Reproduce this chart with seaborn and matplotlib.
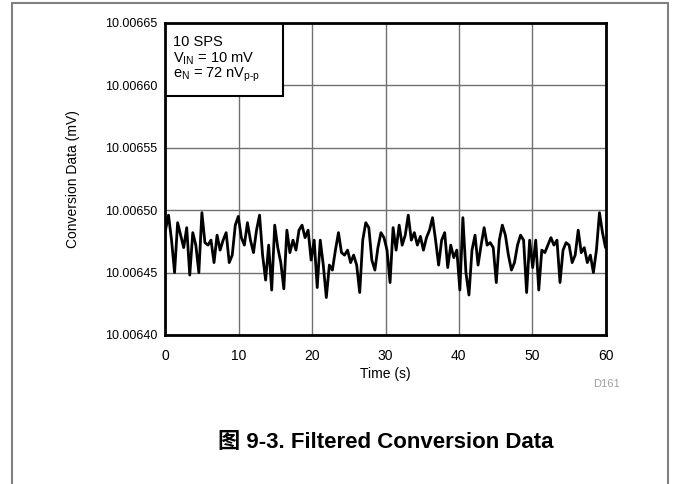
import numpy as np
import matplotlib
matplotlib.use("Agg")
import matplotlib.pyplot as plt
import seaborn as sns
from matplotlib.lines import Line2D
from matplotlib.patches import Rectangle
from matplotlib.ticker import FormatStrFormatter

# conversion data, in nV above 10.00640 mV
noise_nv = [
    84, 96, 76, 50, 90, 80, 70, 86, 48, 82, 72, 50, 98, 74, 72, 76, 58, 80, 68, 76,
    82, 58, 64, 88, 95, 78, 72, 90, 76, 66, 84, 96, 64, 44, 72, 36, 88, 70, 58, 37,
    84, 66, 76, 68, 84, 88, 78, 84, 60, 76, 38, 76, 56, 30, 56, 52, 68, 82, 66, 64,
    68, 58, 64, 56, 34, 76, 90, 86, 60, 52, 70, 82, 78, 68, 42, 86, 68, 88, 72, 80,
    96, 76, 82, 72, 79, 68, 78, 84, 94, 76, 56, 76, 82, 54, 72, 62, 68, 36, 94, 50,
    32, 68, 80, 56, 72, 86, 72, 74, 70, 42, 76, 88, 80, 64, 52, 58, 72, 80, 76, 34,
    76, 54, 76, 36, 68, 66, 72, 78, 72, 76, 42, 68, 74, 72, 58, 64, 84, 66, 70, 58,
    64, 50, 68, 98, 82, 70,
]
base_mv = 10.00640
time_range = (0, 60)
x_ticks = [0, 10, 20, 30, 40, 50, 60]
y_ticks = [10.00640, 10.00645, 10.00650, 10.00655, 10.00660, 10.00665]
box_lines = ["10 SPS",
             r"V$_{\mathrm{IN}}$ = 10 mV",
             r"e$_{\mathrm{N}}$ = 72 nV$_{\mathrm{p\text{-}p}}$"]

time_s = np.linspace(time_range[0], time_range[1], len(noise_nv))
conv_mv = base_mv + np.array(noise_nv) * 1e-6

sns.set_style("white")
plt.rcParams['font.family'] = ['Liberation Sans', 'Noto Sans CJK SC', 'DejaVu Sans']
plt.rcParams['mathtext.fontset'] = 'custom'
plt.rcParams['mathtext.rm'] = 'Liberation Sans'
plt.rcParams['mathtext.it'] = 'Liberation Sans:italic'
plt.rcParams['text.color'] = 'black'
plt.rcParams['axes.labelcolor'] = 'black'

fig = plt.figure(figsize=(6.79, 4.84), dpi=100)
ax = fig.add_axes([0.2437, 0.3079, 0.6481, 0.6446])

sns.lineplot(x=time_s, y=conv_mv, ax=ax, color='black', linewidth=2, zorder=3)

ax.set_xlim(time_range)
ax.set_ylim(y_ticks[0], y_ticks[-1])
ax.set_xticks(x_ticks)
ax.set_yticks(y_ticks)
ax.yaxis.set_major_formatter(FormatStrFormatter('%.5f'))
ax.tick_params(axis='x', length=0, labelsize=10, pad=10, colors='black')
ax.tick_params(axis='y', length=0, labelsize=9, pad=6, colors='black')
ax.grid(True, color='#707070', linewidth=1)
ax.set_axisbelow(True)
for s in ax.spines.values():
    s.set_visible(True)
    s.set_color('black')
    s.set_linewidth(2)
    s.set_zorder(5)

ax.set_xlabel('Time (s)', fontsize=10, labelpad=3)
ax.set_ylabel('Conversion Data (mV)', fontsize=10, labelpad=18)

# info box in the upper left corner
ax.add_patch(Rectangle((0, 0.766), 0.268, 0.234, transform=ax.transAxes,
                       facecolor='white', edgecolor='black', linewidth=1.5, zorder=4))
for i, txt in enumerate(box_lines):
    ax.text(0.016, 0.939 - i * 0.053, txt, transform=ax.transAxes, fontsize=10.5,
            va='center', ha='left', zorder=6)

fig.text(593 / 679, 1 - 384 / 484, 'D161', fontsize=8, color='#a0a0a0', va='center')
fig.text(385.5 / 679, 1 - 442 / 484, '图 9-3. Filtered Conversion Data', fontsize=16,
         fontweight='bold', ha='center', va='center', color='black')

# page frame lines
fig.add_artist(Line2D([12 / 679, 12 / 679], [0, 1 - 3 / 484], color='#808080', lw=1.5))
fig.add_artist(Line2D([12 / 679, 668 / 679], [1 - 3 / 484, 1 - 3 / 484], color='#808080', lw=1.5))
fig.add_artist(Line2D([668 / 679, 668 / 679], [0, 1 - 3 / 484], color='#808080', lw=1.5))

plt.savefig('out.png', dpi=100)
